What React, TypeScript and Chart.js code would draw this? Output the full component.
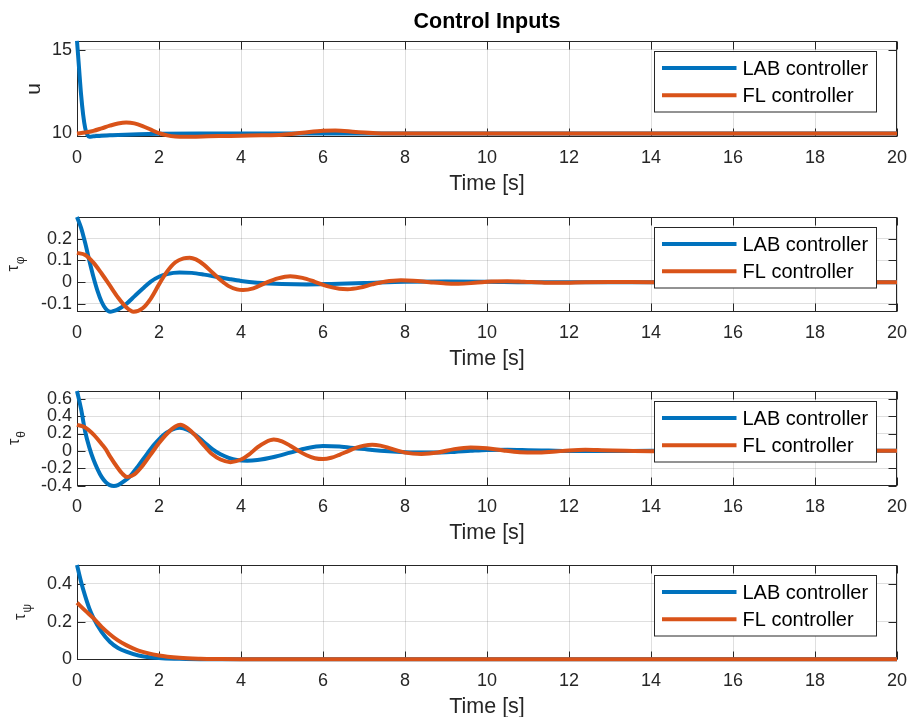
import { useEffect, useRef } from "react";
import { Chart, registerables } from "chart.js";

Chart.register(...registerables);

// ---- series colours (MATLAB default order) ----
const LAB_COLOR = "#0072BD";
const FL_COLOR = "#D95319";
const AXIS_COLOR = "#262626";
const GRID_COLOR = "rgba(38,38,38,0.15)";
const FONT = "'Liberation Sans', Arial, Helvetica, sans-serif";

const SERIES_NAMES = ["LAB controller", "FL controller"];
const TITLE = "Control Inputs";
const X_LABEL = "Time [s]";
const TIME_MIN = 0;
const TIME_MAX = 20;
const TIME_STEP = 2;

// ---- thrust u ----
const U_LAB_T = [0, 0.05, 0.1, 0.15, 0.2, 0.25, 0.3, 0.4, 0.6, 0.8, 1.0, 1.5, 2.0, 3.0, 4.0, 6.0, 8.0, 10, 12, 14, 16, 18, 20];
const U_LAB = [15.55, 13.9, 12.3, 11.1, 10.3, 9.9, 9.78, 9.8, 9.84, 9.86, 9.88, 9.92, 9.95, 9.97, 9.97, 9.97, 9.97, 9.97, 9.97, 9.97, 9.97, 9.97, 9.97];
const U_FL_T = [0, 0.2, 0.4, 0.6, 0.8, 1.0, 1.2, 1.4, 1.6, 1.8, 2.0, 2.2, 2.4, 2.65, 2.9, 3.2, 3.6, 4.0, 4.5, 5.0, 5.5, 6.0, 6.3, 6.8, 7.3, 8.0, 9.0, 10, 12, 14, 16, 18, 20];
const U_FL = [9.97, 10.03, 10.13, 10.28, 10.44, 10.57, 10.63, 10.58, 10.42, 10.2, 9.99, 9.86, 9.79, 9.77, 9.78, 9.8, 9.82, 9.84, 9.86, 9.9, 10.02, 10.14, 10.15, 10.06, 9.99, 9.97, 9.97, 9.97, 9.97, 9.97, 9.97, 9.97, 9.97];
const U_RANGE = [9.76, 15.55];
const U_TICKS = [10, 15];

// ---- roll torque tau_phi ----
const PHI_LAB_T = [0, 0.1, 0.2, 0.3, 0.4, 0.5, 0.6, 0.7, 0.81, 0.9, 1.0, 1.2, 1.4, 1.6, 1.8, 2.0, 2.2, 2.5, 2.8, 3.1, 3.4, 3.7, 4.0, 4.4, 5.0, 5.6, 6.2, 7.0, 8.0, 9.0, 10, 11, 12, 14, 16, 18, 20];
const PHI_LAB = [0.30, 0.25, 0.18, 0.1, 0.025, -0.04, -0.09, -0.122, -0.136, -0.132, -0.125, -0.1, -0.065, -0.03, 0.003, 0.025, 0.038, 0.045, 0.043, 0.035, 0.025, 0.015, 0.006, -0.002, -0.008, -0.01, -0.008, -0.004, 0.002, 0.003, 0.002, 0, 0, 0, 0, 0, 0];
const PHI_FL_T = [0, 0.2, 0.4, 0.6, 0.8, 1.0, 1.2, 1.38, 1.6, 1.8, 2.0, 2.2, 2.4, 2.6, 2.75, 2.9, 3.1, 3.3, 3.5, 3.7, 3.9, 4.05, 4.3, 4.6, 4.9, 5.2, 5.5, 5.8, 6.1, 6.4, 6.6, 6.9, 7.2, 7.5, 7.9, 8.2, 8.6, 9.0, 9.3, 9.7, 10.1, 10.5, 10.9, 11.4, 11.8, 12.4, 13, 14, 16, 18, 20];
const PHI_FL = [0.135, 0.125, 0.09, 0.04, -0.015, -0.07, -0.115, -0.136, -0.12, -0.075, -0.01, 0.05, 0.092, 0.11, 0.113, 0.105, 0.08, 0.045, 0.01, -0.018, -0.033, -0.036, -0.028, -0.003, 0.018, 0.028, 0.02, 0.002, -0.018, -0.03, -0.032, -0.025, -0.01, 0.002, 0.009, 0.007, 0, -0.006, -0.007, -0.003, 0.003, 0.005, 0.002, -0.002, -0.003, 0, 0.001, 0, 0, 0, 0];
const PHI_RANGE = [-0.137, 0.30];
const PHI_TICKS = [-0.1, 0, 0.1, 0.2];

// ---- pitch torque tau_theta ----
const THETA_LAB_T = [0, 0.1, 0.2, 0.3, 0.4, 0.5, 0.6, 0.7, 0.8, 0.9, 1.0, 1.15, 1.3, 1.5, 1.7, 1.9, 2.1, 2.3, 2.5, 2.7, 2.9, 3.1, 3.3, 3.5, 3.7, 3.9, 4.15, 4.4, 4.8, 5.2, 5.6, 6.0, 6.4, 6.8, 7.2, 7.6, 8.0, 8.4, 8.8, 9.2, 9.6, 10, 10.5, 11, 11.5, 12, 13, 14, 16, 18, 20];
const THETA_LAB = [0.69, 0.48, 0.22, 0.04, -0.1, -0.21, -0.3, -0.36, -0.395, -0.405, -0.395, -0.35, -0.29, -0.17, -0.04, 0.08, 0.18, 0.24, 0.265, 0.24, 0.18, 0.1, 0.02, -0.04, -0.08, -0.105, -0.113, -0.105, -0.07, -0.02, 0.03, 0.055, 0.05, 0.03, 0.01, -0.005, -0.015, -0.02, -0.02, -0.012, 0, 0.01, 0.012, 0.008, 0.003, -0.002, -0.003, 0, 0, 0, 0];
const THETA_FL_T = [0, 0.2, 0.4, 0.6, 0.7, 0.8, 1.0, 1.1, 1.22, 1.4, 1.6, 1.8, 2.0, 2.2, 2.4, 2.52, 2.7, 2.9, 3.1, 3.3, 3.5, 3.74, 4.0, 4.2, 4.4, 4.6, 4.8, 5.0, 5.2, 5.4, 5.6, 5.8, 6.0, 6.2, 6.4, 6.6, 6.8, 7.0, 7.2, 7.4, 7.6, 7.8, 8.0, 8.4, 8.8, 9.2, 9.6, 10.0, 10.4, 10.8, 11.2, 11.6, 12.0, 12.4, 12.8, 13.4, 14, 15, 16, 18, 20];
const THETA_FL = [0.30, 0.27, 0.19, 0.08, 0.02, -0.06, -0.2, -0.26, -0.3, -0.27, -0.17, -0.04, 0.09, 0.2, 0.28, 0.3, 0.26, 0.17, 0.06, -0.04, -0.1, -0.13, -0.1, -0.04, 0.04, 0.1, 0.13, 0.11, 0.06, 0.0, -0.05, -0.085, -0.095, -0.08, -0.045, -0.005, 0.035, 0.06, 0.07, 0.06, 0.035, 0.005, -0.02, -0.035, -0.02, 0.02, 0.04, 0.03, 0.005, -0.015, -0.02, -0.01, 0.005, 0.012, 0.008, 0, -0.004, 0, 0, 0, 0];
const THETA_RANGE = [-0.405, 0.69];
const THETA_TICKS = [-0.4, -0.2, 0, 0.2, 0.4, 0.6];

// ---- yaw torque tau_psi ----
const PSI_LAB_T = [0, 0.1, 0.2, 0.3, 0.4, 0.6, 0.8, 1.0, 1.2, 1.5, 2.0, 2.5, 3.0, 4.0, 6, 10, 15, 20];
const PSI_LAB = [0.5, 0.41, 0.335, 0.27, 0.22, 0.145, 0.093, 0.06, 0.04, 0.02, 0.006, 0.002, 0.0, 0, 0, 0, 0, 0];
const PSI_FL_T = [0, 0.2, 0.4, 0.6, 0.8, 1.0, 1.2, 1.5, 2.0, 2.5, 3.0, 3.5, 4.0, 6, 10, 15, 20];
const PSI_FL = [0.3, 0.258, 0.218, 0.172, 0.133, 0.1, 0.075, 0.046, 0.02, 0.008, 0.003, 0.001, 0, 0, 0, 0, 0];
const PSI_RANGE = [-0.004, 0.5];
const PSI_TICKS = [0, 0.2, 0.4];

type Panel = {
  canvasTop: number;
  canvasHeight: number;
  padTop: number;
  title?: string;
  range: number[];
  ticks: number[];
  label: string;
  sub?: string;
  labelX: number;
  lab: [number[], number[]];
  fl: [number[], number[]];
};

const PANELS: Panel[] = [
  { canvasTop: 0, canvasHeight: 197, padTop: 0, title: TITLE, range: U_RANGE, ticks: U_TICKS, label: "u", labelX: 40, lab: [U_LAB_T, U_LAB], fl: [U_FL_T, U_FL] },
  { canvasTop: 199, canvasHeight: 173, padTop: 18, range: PHI_RANGE, ticks: PHI_TICKS, label: "τ", sub: "φ", labelX: 17.5, lab: [PHI_LAB_T, PHI_LAB], fl: [PHI_FL_T, PHI_FL] },
  { canvasTop: 373, canvasHeight: 173, padTop: 18, range: THETA_RANGE, ticks: THETA_TICKS, label: "τ", sub: "θ", labelX: 18.5, lab: [THETA_LAB_T, THETA_LAB], fl: [THETA_FL_T, THETA_FL] },
  { canvasTop: 547, canvasHeight: 173, padTop: 18, range: PSI_RANGE, ticks: PSI_TICKS, label: "τ", sub: "ψ", labelX: 24.5, lab: [PSI_LAB_T, PSI_LAB], fl: [PSI_FL_T, PSI_FL] },
];

const toPoints = (t: number[], v: number[]) => t.map((x, i) => ({ x, y: v[i] }));
const fmtTick = (v: number) => String(Number(v.toFixed(3)));

// Axes box with inward tick marks on all four sides
const framePlugin = {
  id: "matlabFrame",
  beforeDatasetsDraw(chart: any) {
    const { ctx, chartArea: a, scales } = chart;
    const L = Math.round(a.left) + 0.5;
    const R = Math.round(a.right) - 0.5;
    const T = Math.round(a.top) + 0.5;
    const B = Math.round(a.bottom) - 0.5;
    const len = 8;
    ctx.save();
    ctx.strokeStyle = AXIS_COLOR;
    ctx.lineWidth = 1;
    ctx.beginPath();
    scales.x.ticks.forEach((tk: any) => {
      const px = Math.round(scales.x.getPixelForValue(tk.value)) + 0.5;
      ctx.moveTo(px, B); ctx.lineTo(px, B - len);
      ctx.moveTo(px, T); ctx.lineTo(px, T + len);
    });
    scales.y.ticks.forEach((tk: any) => {
      const py = Math.round(scales.y.getPixelForValue(tk.value)) + 0.5;
      ctx.moveTo(L, py); ctx.lineTo(L + len, py);
      ctx.moveTo(R, py); ctx.lineTo(R - len, py);
    });
    ctx.stroke();
    ctx.strokeRect(L, T, R - L, B - T);
    ctx.restore();
  },
};

// Legend box in the upper-right corner of the axes
const legendPlugin = {
  id: "insideLegend",
  afterDatasetsDraw(chart: any) {
    const { ctx, chartArea: a } = chart;
    const w = 222;
    const h = 60.5;
    const left = Math.round(a.right - 21 - w) + 0.5;
    const top = Math.round(a.top + 10) + 0.5;
    ctx.save();
    ctx.fillStyle = "#fff";
    ctx.fillRect(left, top, w, h);
    ctx.strokeStyle = AXIS_COLOR;
    ctx.lineWidth = 1;
    ctx.strokeRect(left, top, w, h);
    ctx.font = `20px ${FONT}`;
    ctx.textBaseline = "middle";
    ctx.textAlign = "left";
    chart.data.datasets.forEach((ds: any, i: number) => {
      const y = top + 16.5 + i * 27.3;
      ctx.strokeStyle = ds.borderColor;
      ctx.lineWidth = 4;
      ctx.beginPath();
      ctx.moveTo(left + 7.5, y);
      ctx.lineTo(left + 82, y);
      ctx.stroke();
      ctx.fillStyle = "#000";
      ctx.fillText(ds.label, left + 88, y + 1);
    });
    ctx.restore();
  },
};

function makeYLabelPlugin(p: Panel) {
  return {
    id: "yLabel",
    afterDraw(chart: any) {
      const { ctx, chartArea: a } = chart;
      const mainFont = p.sub ? `16px ${FONT}` : `21px ${FONT}`;
      const subFont = `12px ${FONT}`;
      ctx.save();
      ctx.font = mainFont;
      const w1 = ctx.measureText(p.label).width;
      ctx.font = subFont;
      const w2 = p.sub ? ctx.measureText(p.sub).width : 0;
      const total = w1 + w2;
      ctx.translate(p.labelX, (a.top + a.bottom) / 2);
      ctx.rotate(-Math.PI / 2);
      ctx.fillStyle = AXIS_COLOR;
      ctx.textBaseline = "alphabetic";
      ctx.textAlign = "left";
      ctx.font = mainFont;
      ctx.fillText(p.label, -total / 2, 0);
      if (p.sub) {
        ctx.font = subFont;
        ctx.fillText(p.sub, -total / 2 + w1 + 1, 6);
      }
      ctx.restore();
    },
  };
}

function SubPlot({ panel }: { panel: Panel }) {
  const ref = useRef<HTMLCanvasElement | null>(null);
  useEffect(() => {
    if (!ref.current) return;
    const p = panel;
    const chart = new Chart(ref.current, {
      type: "line",
      data: {
        datasets: [
          {
            label: SERIES_NAMES[0],
            data: toPoints(p.lab[0], p.lab[1]),
            borderColor: LAB_COLOR,
            backgroundColor: LAB_COLOR,
            borderWidth: 4,
            pointRadius: 0,
            cubicInterpolationMode: "monotone",
            clip: false as any,
            fill: false,
            order: 1,
          },
          {
            // plotted second, so it sits on top of the LAB curve
            label: SERIES_NAMES[1],
            data: toPoints(p.fl[0], p.fl[1]),
            borderColor: FL_COLOR,
            backgroundColor: FL_COLOR,
            borderWidth: 4,
            pointRadius: 0,
            cubicInterpolationMode: "monotone",
            clip: false as any,
            fill: false,
            order: 0,
          },
        ],
      },
      options: {
        animation: false,
        responsive: false,
        maintainAspectRatio: false,
        events: [],
        layout: { padding: { left: 0, right: 14, top: p.padTop, bottom: 0 } },
        plugins: {
          legend: { display: false },
          tooltip: { enabled: false },
          title: {
            display: !!p.title,
            text: p.title || "",
            color: "#000",
            fullSize: false,
            font: { family: FONT, size: 21.5, weight: "bold" },
            padding: { top: 9, bottom: 6 },
          },
        },
        scales: {
          x: {
            type: "linear",
            min: TIME_MIN,
            max: TIME_MAX,
            ticks: {
              stepSize: TIME_STEP,
              padding: 0,
              color: AXIS_COLOR,
              maxRotation: 0,
              autoSkip: false,
              font: { family: FONT, size: 18 },
            },
            grid: {
              color: GRID_COLOR,
              drawTicks: true,
              tickLength: 10,
              tickColor: "rgba(0,0,0,0)",
              lineWidth: 1,
            },
            border: { display: false },
            title: {
              display: true,
              text: X_LABEL,
              color: AXIS_COLOR,
              font: { family: FONT, size: 21.5 },
              padding: { top: 0, bottom: 0 },
            },
            afterFit: (s: any) => {
              s.height = 60;
            },
          },
          y: {
            type: "linear",
            min: p.range[0],
            max: p.range[1],
            afterBuildTicks: (s: any) => {
              s.ticks = p.ticks.map((value) => ({ value }));
            },
            ticks: {
              padding: 5,
              color: AXIS_COLOR,
              autoSkip: false,
              font: { family: FONT, size: 18 },
              callback: (v: any) => fmtTick(Number(v)),
            },
            grid: { color: GRID_COLOR, drawTicks: false, lineWidth: 1 },
            border: { display: false },
            afterFit: (s: any) => {
              s.width = 77;
            },
          },
        },
      } as any,
      plugins: [framePlugin, legendPlugin, makeYLabelPlugin(p)],
    });
    return () => chart.destroy();
  }, [panel]);

  return (
    <canvas
      ref={ref}
      width={911}
      height={panel.canvasHeight}
      style={{
        position: "absolute",
        left: 0,
        top: panel.canvasTop,
        width: 911,
        height: panel.canvasHeight,
      }}
    />
  );
}

export default function App() {
  return (
    <div
      style={{
        position: "absolute",
        left: 0,
        top: 0,
        width: 911,
        height: 717,
        background: "#fff",
        overflow: "hidden",
      }}
    >
      {PANELS.map((p, i) => (
        <SubPlot key={i} panel={p} />
      ))}
    </div>
  );
}
